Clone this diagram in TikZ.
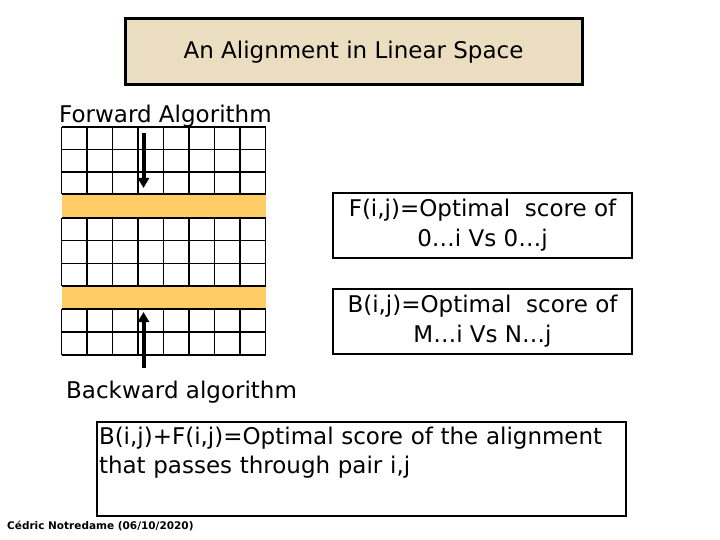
\documentclass[tikz,border=0pt]{standalone}
\usepackage{fontspec}
\setmainfont{DejaVu Sans}
\usetikzlibrary{calc, positioning, arrows.meta}
\definecolor{parchment}{RGB}{235,222,192}
\definecolor{bandorange}{RGB}{255,204,102}
\tikzset{
  bigtext/.style={font=\fontsize{23}{30}\selectfont},
  infobox/.style={draw, rectangle, line width=2pt, minimum width=299pt, minimum height=65pt, align=center, inner sep=0pt, bigtext},
  gridline/.style={line width=1.2pt},
  flow/.style={line width=4pt, -{Triangle[width=11pt, length=10pt]}}
}

\begin{document}
\begin{tikzpicture}[x=1pt, y=-1pt]
          \useasboundingbox (0, 0) rectangle (720, 540);
          \fill[white] (0, 0) rectangle (720, 540);
          \node[draw,  rectangle,  line width=3pt,  fill=parchment,  minimum width=457pt,  minimum height=66pt,  bigtext] (title) at (353.5, 52) {An Alignment in Linear Space};
          \node[anchor=west,  inner sep=0pt,  bigtext] (fwdlabel) at (59, 116) {Forward Algorithm};
          \fill[bandorange] (61.5, 194) rectangle (265.5, 218);
          \fill[bandorange] (61.5, 286) rectangle (265.5, 309);
          \foreach \y in {127, 149.5, 172, 194, 218, 240.7, 263.3, 286, 309, 332, 355}
            \draw[gridline] (61.5, \y) -- (265.5, \y);
          \foreach \a/\b in {127/194, 218/286, 309/355}
            \foreach \x in {0, ..., 8}
              \draw[gridline] (61.5+\x*25.5, \a) -- (61.5+\x*25.5, \b);
          \coordinate (fwdtop) at (143.5, 133);
          \coordinate (fwdtip) at (143.5, 188);
          \coordinate (bwdbottom) at (143.5, 368);
          \coordinate (bwdtip) at (143.5, 312);
          \draw[flow] (fwdtop) -- (fwdtip);
          \draw[flow] (bwdbottom) -- (bwdtip);
          \node[infobox] (fbox) at (482.5, 225.5) {F(i,j)=Optimal\ \ score of\\0…i Vs 0…j};
          \node[infobox] (bbox) at (482.5, 321.5) {B(i,j)=Optimal\ \ score of\\M…i Vs N…j};
          \node[anchor=west,  inner sep=0pt,  bigtext] (bwdlabel) at (66, 392) {Backward algorithm};
          \node[draw,  rectangle,  anchor=north west,  line width=2pt,  inner xsep=2pt,  inner ysep=0pt,  text width=525pt,  minimum height=94pt,  align=left,  font=\fontsize{23}{29}\selectfont] (sumbox) at (96, 421) {B(i,j)+F(i,j)=Optimal score of the alignment\\that passes through pair i,j\\\strut};
          \node[anchor=west,  inner sep=0pt,  font=\bfseries\fontsize{10.5}{12}\selectfont] (credit) at (7, 526) {Cédric Notredame (06/10/2020)};
      \end{tikzpicture}
\end{document}
